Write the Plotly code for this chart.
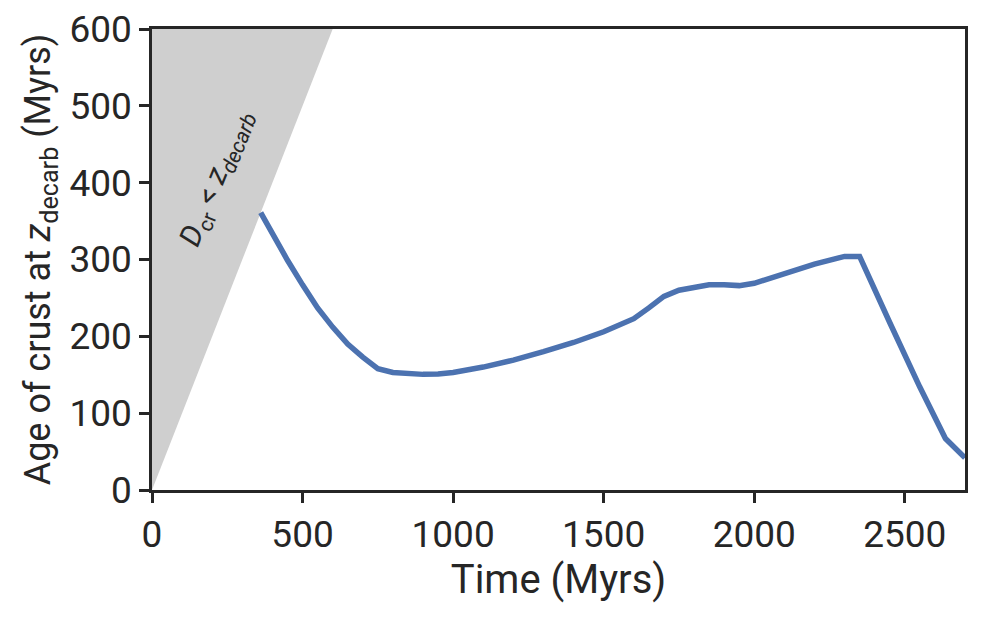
import plotly.graph_objects as go

# time (Myrs) and age of crust at z_decarb (Myrs)
time_myr = [361, 400, 450, 500, 550, 600, 650, 700, 750, 800, 850, 900, 950,
            1000, 1100, 1200, 1300, 1400, 1500, 1600, 1650, 1700, 1750, 1800,
            1850, 1900, 1950, 2000, 2100, 2200, 2300, 2350, 2450, 2550, 2635, 2700]
crust_age = [361, 333, 299, 267, 237, 212, 190, 173, 158, 153, 151, 150.5, 151,
             153, 160, 169, 180, 192, 206, 223, 237, 252, 260, 264, 267, 267,
             266, 269, 282, 294, 304, 304, 218, 134, 67, 42]

# region where D_cr < z_decarb (age > time)
shade_t = [0, 0, 600]
shade_age = [0, 600, 600]

BLUE = "#4c72b0"
INK = "#262626"
FONT = "Roboto"

fig = go.Figure()
fig.add_trace(go.Scatter(x=shade_t, y=shade_age, fill="toself", mode="lines",
                         fillcolor="#cfcfcf", line=dict(width=0, color="#cfcfcf"),
                         hoverinfo="skip", showlegend=False))
fig.add_trace(go.Scatter(x=time_myr, y=crust_age, mode="lines",
                         line=dict(color=BLUE, width=5.5), showlegend=False))

fig.add_annotation(x=213, y=406, xref="x", yref="y", showarrow=False,
                   text="<i>D</i><sub>cr</sub> &lt; <i>z<sub>decarb</sub></i>",
                   textangle=-68, font=dict(family=FONT, size=30, color=INK))

axis_style = dict(showline=True, linecolor=INK, linewidth=2.5, mirror=True,
                  ticks="outside", ticklen=10, tickwidth=2.5, tickcolor=INK,
                  showgrid=False, zeroline=False, ticklabeloverflow="allow",
                  automargin=False,
                  tickfont=dict(family=FONT, size=37, color=INK))

fig.update_xaxes(range=[0, 2700], tickvals=[0, 500, 1000, 1500, 2000, 2500],
                 title=dict(text="Time (Myrs)", font=dict(family=FONT, size=40, color=INK),
                            standoff=4),
                 **axis_style)
fig.update_yaxes(range=[0, 600], tickvals=[0, 100, 200, 300, 400, 500, 600],
                 title=dict(text="Age of crust at <i>z</i><sub>decarb</sub> (Myrs)",
                            font=dict(family=FONT, size=36, color=INK), standoff=8),
                 **axis_style)

# page body has an 8px margin, so the figure is sized to land on the same pixels
fig.update_layout(width=973, height=611, plot_bgcolor="white", paper_bgcolor="white",
                  margin=dict(l=144, r=16, t=21, b=129))

fig.write_html("out.html")
